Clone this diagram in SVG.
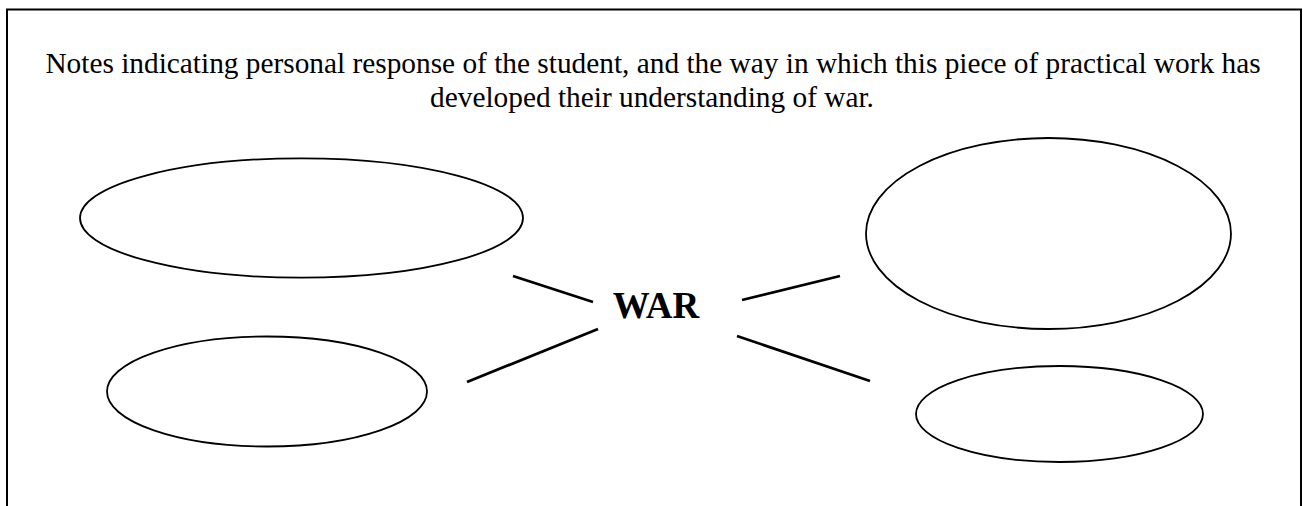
<svg xmlns="http://www.w3.org/2000/svg" width="1303" height="506" viewBox="0 0 1303 506">
<style>
.frame{fill:#fff;stroke:#000;stroke-width:2}
.bubble{fill:none;stroke:#000;stroke-width:1.8}
.conn{stroke:#000;stroke-width:2.8;stroke-linecap:butt}
.note{font-family:"Liberation Serif","Times New Roman",serif;font-size:29.33px;fill:#000;text-anchor:middle}
.war{font-family:"Liberation Serif","Times New Roman",serif;font-size:37px;font-weight:bold;fill:#000;text-anchor:middle}
</style>
<rect width="1303" height="506" fill="#fff"/>
<rect class="frame" x="7" y="9.5" width="1294" height="520"/>
<g id="notes">
<text class="note" x="653" y="73.3">Notes indicating personal response of the student, and the way in which this piece of practical work has</text>
<text class="note" x="652" y="106.7">developed their understanding of war.</text>
</g>
<g id="war"><text class="war" x="656" y="317.5">WAR</text></g>
<g id="bubble-top-left"><ellipse class="bubble" cx="301.5" cy="218" rx="221.5" ry="59.7"/></g>
<g id="bubble-bottom-left"><ellipse class="bubble" cx="267" cy="391.5" rx="160" ry="55"/></g>
<g id="bubble-top-right"><ellipse class="bubble" cx="1048.5" cy="233.5" rx="182.5" ry="95.5"/></g>
<g id="bubble-bottom-right"><ellipse class="bubble" cx="1059.5" cy="414" rx="143.5" ry="48"/></g>
<g id="connectors">
<line class="conn" x1="513" y1="276" x2="593" y2="302"/>
<line class="conn" x1="598" y1="329" x2="467" y2="382"/>
<line class="conn" x1="742" y1="300" x2="840" y2="276"/>
<line class="conn" x1="737" y1="336" x2="870" y2="381"/>
</g>
</svg>
